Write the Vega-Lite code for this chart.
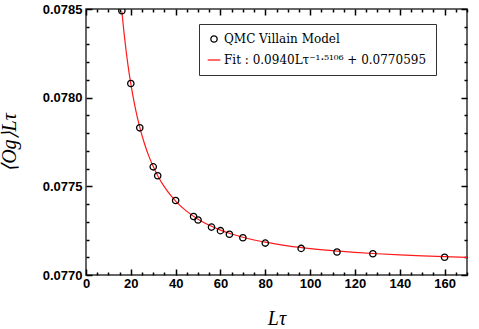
{
  "$schema": "https://vega.github.io/schema/vega-lite/v6.json",
  "width": 381,
  "height": 266,
  "autosize": {"type": "none"},
  "padding": {"left": 86, "top": 9, "right": 12, "bottom": 54},
  "background": "white",
  "config": {
    "view": {"stroke": "#333", "strokeWidth": 1.5},
    "axis": {
      "domain": false,
      "grid": false,
      "labelFont": "Liberation Sans",
      "labelFontWeight": "bold",
      "labelFontSize": 13,
      "labelColor": "black",
      "labelOverlap": false,
      "labelFlush": false,
      "titleFont": "Liberation Serif",
      "titleFontStyle": "italic",
      "titleFontWeight": "normal",
      "titleFontSize": 20,
      "titleColor": "black"
    }
  },
  "datasets": {
    "fit": [
      {"L": 16, "O": 0.0784857},
      {"L": 17, "O": 0.0783609},
      {"L": 18, "O": 0.0782532},
      {"L": 19, "O": 0.0781596},
      {"L": 20, "O": 0.0780776},
      {"L": 22, "O": 0.0779411},
      {"L": 24, "O": 0.0778325},
      {"L": 26, "O": 0.0777445},
      {"L": 28, "O": 0.0776719},
      {"L": 30, "O": 0.0776113},
      {"L": 32, "O": 0.0775601},
      {"L": 35, "O": 0.0774967},
      {"L": 38, "O": 0.0774456},
      {"L": 40, "O": 0.0774168},
      {"L": 45, "O": 0.0773586},
      {"L": 50, "O": 0.0773146},
      {"L": 55, "O": 0.0772804},
      {"L": 60, "O": 0.0772532},
      {"L": 65, "O": 0.0772311},
      {"L": 70, "O": 0.0772129},
      {"L": 80, "O": 0.0771849},
      {"L": 90, "O": 0.0771645},
      {"L": 100, "O": 0.077149},
      {"L": 110, "O": 0.077137},
      {"L": 120, "O": 0.0771275},
      {"L": 130, "O": 0.0771197},
      {"L": 140, "O": 0.0771133},
      {"L": 150, "O": 0.077108},
      {"L": 160, "O": 0.0771035},
      {"L": 170, "O": 0.0770997}
    ],
    "qmc": [
      {"L": 16, "O": 0.07849, "series": "QMC Villain Model"},
      {"L": 20, "O": 0.07808, "series": "QMC Villain Model"},
      {"L": 24, "O": 0.07783, "series": "QMC Villain Model"},
      {"L": 30, "O": 0.07761, "series": "QMC Villain Model"},
      {"L": 32, "O": 0.07756, "series": "QMC Villain Model"},
      {"L": 40, "O": 0.07742, "series": "QMC Villain Model"},
      {"L": 48, "O": 0.07733, "series": "QMC Villain Model"},
      {"L": 50, "O": 0.07731, "series": "QMC Villain Model"},
      {"L": 56, "O": 0.07727, "series": "QMC Villain Model"},
      {"L": 60, "O": 0.07725, "series": "QMC Villain Model"},
      {"L": 64, "O": 0.07723, "series": "QMC Villain Model"},
      {"L": 70, "O": 0.07721, "series": "QMC Villain Model"},
      {"L": 80, "O": 0.07718, "series": "QMC Villain Model"},
      {"L": 96, "O": 0.07715, "series": "QMC Villain Model"},
      {"L": 112, "O": 0.07713, "series": "QMC Villain Model"},
      {"L": 128, "O": 0.07712, "series": "QMC Villain Model"},
      {"L": 160, "O": 0.0771, "series": "QMC Villain Model"}
    ]
  },
  "layer": [
    {
      "data": {"name": "fit"},
      "mark": {"type": "line", "color": "#ff1a1a", "strokeWidth": 1.2, "interpolate": "monotone", "clip": true},
      "encoding": {
        "x": {
          "field": "L", "type": "quantitative",
          "scale": {"domain": [0, 170], "nice": false, "zero": false},
          "axis": {
            "orient": "bottom",
            "values": [0,20,40,60,80,100,120,140,160],
            "format": "d",
            "tickSize": -6, "tickColor": "black", "tickWidth": 1.5,
            "labelPadding": 8,
            "title": "Lτ",
            "titlePadding": 18
          }
        },
        "y": {
          "field": "O", "type": "quantitative",
          "scale": {"domain": [0.077, 0.0785], "nice": false, "zero": false},
          "axis": {
            "orient": "left",
            "values": [0.077,0.0775,0.078,0.0785],
            "format": ".4f",
            "tickSize": -6, "tickColor": "black", "tickWidth": 1.5,
            "labelPadding": 10,
            "title": "⟨Og⟩Lτ",
            "titlePadding": 23
          }
        }
      }
    },
    {
      "data": {"name": "qmc"},
      "mark": {"type": "point", "filled": false, "strokeWidth": 1.3, "size": 40, "opacity": 1, "clip": true},
      "encoding": {
        "x": {
          "field": "L", "type": "quantitative",
          "axis": {
            "orient": "top",
            "values": [0,20,40,60,80,100,120,140,160],
            "labels": false,
            "tickSize": -6, "tickColor": "black", "tickWidth": 1.5,
            "title": null
          }
        },
        "y": {
          "field": "O", "type": "quantitative",
          "axis": {
            "orient": "right",
            "values": [0.077,0.0775,0.078,0.0785],
            "labels": false,
            "tickSize": -6, "tickColor": "black", "tickWidth": 1.5,
            "title": null
          }
        },
        "color": {
          "field": "series", "type": "nominal",
          "scale": {"domain": ["QMC Villain Model", "Fit : 0.0940Lτ⁻¹·⁵¹⁰⁶ + 0.0770595"], "range": ["black", "#ff1a1a"]},
          "legend": {
            "orient": "none", "legendX": 113, "legendY": 15, "title": null,
            "labelFont": "DejaVu Serif", "labelFontSize": 12, "labelColor": "black", "labelLimit": 300,
            "strokeColor": "#333", "padding": 9, "rowPadding": 9, "symbolStrokeWidth": 1.3, "symbolSize": 40
          }
        },
        "shape": {
          "field": "series", "type": "nominal",
          "scale": {"domain": ["QMC Villain Model", "Fit : 0.0940Lτ⁻¹·⁵¹⁰⁶ + 0.0770595"], "range": ["circle", "M-2,0H2"]},
          "legend": {
            "orient": "none", "legendX": 113, "legendY": 15, "title": null,
            "labelFont": "DejaVu Serif", "labelFontSize": 12, "labelColor": "black", "labelLimit": 300,
            "strokeColor": "#333", "padding": 9, "rowPadding": 9, "symbolStrokeWidth": 1.3, "symbolSize": 40
          }
        }
      }
    },
    {
      "data": {"name": "fit"},
      "mark": {"type": "line", "opacity": 0},
      "encoding": {
        "x": {
          "field": "L", "type": "quantitative",
          "axis": {
            "orient": "bottom",
            "values": [5,10,15,25,30,35,45,50,55,65,70,75,85,90,95,105,110,115,125,130,135,145,150,155,165,170],
            "labels": false,
            "tickSize": -3, "tickColor": "black", "tickWidth": 1.5,
            "title": null
          }
        },
        "y": {
          "field": "O", "type": "quantitative",
          "axis": {
            "orient": "left",
            "values": [0.0771,0.0772,0.0773,0.0774,0.0776,0.0777,0.0778,0.0779,0.0781,0.0782,0.0783,0.0784],
            "labels": false,
            "tickSize": -3, "tickColor": "black", "tickWidth": 1.5,
            "title": null
          }
        }
      }
    },
    {
      "data": {"name": "fit"},
      "mark": {"type": "line", "opacity": 0},
      "encoding": {
        "x": {
          "field": "L", "type": "quantitative",
          "axis": {
            "orient": "top",
            "values": [5,10,15,25,30,35,45,50,55,65,70,75,85,90,95,105,110,115,125,130,135,145,150,155,165,170],
            "labels": false,
            "tickSize": -3, "tickColor": "black", "tickWidth": 1.5,
            "title": null
          }
        },
        "y": {
          "field": "O", "type": "quantitative",
          "axis": {
            "orient": "right",
            "values": [0.0771,0.0772,0.0773,0.0774,0.0776,0.0777,0.0778,0.0779,0.0781,0.0782,0.0783,0.0784],
            "labels": false,
            "tickSize": -3, "tickColor": "black", "tickWidth": 1.5,
            "title": null
          }
        }
      }
    }
  ],
  "resolve": {"axis": {"x": "independent", "y": "independent"}}
}
